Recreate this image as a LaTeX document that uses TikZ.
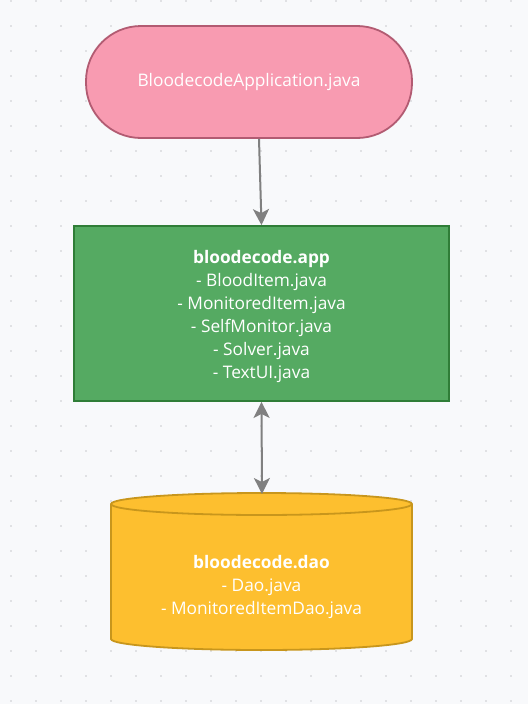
\documentclass[tikz,border=0pt]{standalone}
\usepackage{fontspec}
\setmainfont{Open Sans}
\usetikzlibrary{arrows.meta}
\definecolor{bgc}{HTML}{F8F9FB}
\definecolor{dotc}{HTML}{E0E1E4}
\definecolor{pinkf}{HTML}{F89BB1}
\definecolor{pinkd}{HTML}{B25B72}
\definecolor{greenf}{HTML}{55AA62}
\definecolor{greend}{HTML}{2F7D37}
\definecolor{yelf}{HTML}{FDBF2F}
\definecolor{yeld}{HTML}{C8961C}
\definecolor{arrc}{HTML}{808080}
\tikzset{
  lbl/.style={text=white, font=\fontsize{17.3}{23}\selectfont, align=center},
  tip/.tip={Stealth[length=16pt,width=16pt,inset=4pt]},
  conn/.style={draw=arrc, line width=2pt, -tip},
  bconn/.style={draw=arrc, line width=2pt, tip-tip},
}
\begin{document}
\begin{tikzpicture}[x=1pt,y=-1pt]
\useasboundingbox (0,0) rectangle (528,704);
\fill[bgc] (0,0) rectangle (528,704);
\foreach \i in {0,...,20}{
  \foreach \j in {0,...,28}{
    \fill[dotc] ({11+25*\i-1},{1+25*\j-1}) rectangle ++(2,2);
  }
}
% start node
\node[lbl, draw=pinkd, fill=pinkf, line width=1.8pt, rounded corners=55pt,
      minimum width=326pt, minimum height=112pt, inner sep=0pt]
  (start) at (249,82) {BloodecodeApplication.java};
% app node
\node[draw=greend, fill=greenf, line width=1.8pt,
      minimum width=375pt, minimum height=175pt, inner sep=0pt]
  (app) at (261.5,313.5) {};
\node[lbl, inner sep=0pt] (applbl) at ([yshift=-3pt]app.center)
  {\textbf{bloodecode.app}\\- BloodItem.java\\- MonitoredItem.java\\- SelfMonitor.java\\- Solver.java\\- TextUI.java};
% dao cylinder
\filldraw[fill=yelf, draw=yeld, line width=1.8pt]
  (111,504) -- (111,639) arc[start angle=180, end angle=0, x radius=150.5, y radius=11]
  -- (412,504) arc[start angle=0, end angle=-180, x radius=150.5, y radius=11] -- cycle;
\draw[yeld, line width=1.8pt] (111,504) arc[start angle=180, end angle=0, x radius=150.5, y radius=11];
\coordinate (daotop) at (262,494);
\node[lbl, inner sep=0pt] (dao) at (261.5,587) {\textbf{bloodecode.dao}\\- Dao.java\\- MonitoredItemDao.java};
% connectors
\draw[conn] ([xshift=10pt]start.south) -- (app.north);
\draw[bconn] (app.south) -- (daotop);
\end{tikzpicture}
\end{document}
